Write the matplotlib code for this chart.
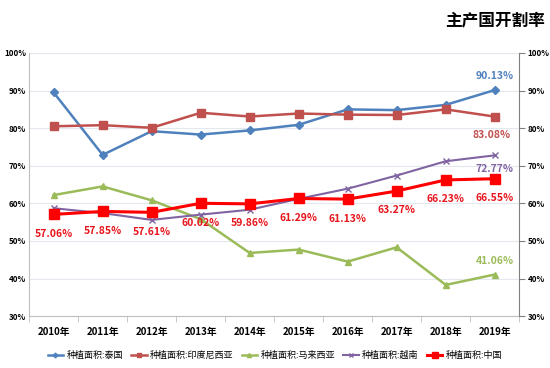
import matplotlib
matplotlib.use("Agg")
import matplotlib.pyplot as plt
from matplotlib.ticker import PercentFormatter

plt.rcParams['font.family'] = ['Noto Sans CJK SC', 'DejaVu Sans']

years = ["2010年", "2011年", "2012年", "2013年", "2014年",
         "2015年", "2016年", "2017年", "2018年", "2019年"]

thailand = [89.5, 72.9, 79.2, 78.3, 79.4, 80.9, 85.0, 84.8, 86.2, 90.13]
indonesia = [80.5, 80.8, 80.1, 84.1, 83.1, 83.9, 83.6, 83.5, 85.0, 83.08]
malaysia = [62.2, 64.5, 60.8, 55.8, 46.8, 47.7, 44.5, 48.3, 38.3, 41.06]
vietnam = [58.7, 57.4, 55.6, 57.0, 58.3, 61.2, 63.9, 67.4, 71.2, 72.77]
china = [57.06, 57.85, 57.61, 60.02, 59.86, 61.29, 61.13, 63.27, 66.23, 66.55]

names = ["种植面积:泰国", "种植面积:印度尼西亚", "种植面积:马来西亚",
         "种植面积:越南", "种植面积:中国"]

fig = plt.figure(figsize=(5.5, 3.68), dpi=100)
ax = fig.add_axes([0.053, 0.141, 0.891, 0.715])
x = range(len(years))

ax.plot(x, thailand, color="#4F81BD", lw=1.8, marker="D", ms=4, label=names[0], zorder=3)
ax.plot(x, indonesia, color="#C0504D", lw=1.8, marker="s", ms=6, label=names[1], zorder=3)
ax.plot(x, malaysia, color="#9BBB59", lw=1.8, marker="^", ms=5, label=names[2], zorder=3)
ax.plot(x, vietnam, color="#8064A2", lw=1.5, marker="x", ms=5, mew=1, label=names[3], zorder=3)
ax.plot(x, china, color="#FF0000", lw=2.2, marker="s", ms=7, label=names[4], zorder=4)

for i, v in enumerate(china):
    ax.annotate(f"{v:.2f}%", (i, v), xytext=(0, -14), textcoords="offset points",
                ha="center", va="center", color="#E8141B", fontsize=7.5, fontweight="bold", zorder=5)
ax.annotate(f"{thailand[-1]:.2f}%", (9, thailand[-1]), xytext=(0, 10), textcoords="offset points",
            ha="center", va="center", color="#4F81BD", fontsize=7.5, fontweight="bold")
ax.annotate(f"{indonesia[-1]:.2f}%", (9, indonesia[-1]), xytext=(-2, -13), textcoords="offset points",
            ha="center", va="center", color="#C0504D", fontsize=7.5, fontweight="bold")
ax.annotate(f"{vietnam[-1]:.2f}%", (9, vietnam[-1]), xytext=(0, -10), textcoords="offset points",
            ha="center", va="center", color="#8064A2", fontsize=7.5, fontweight="bold")
ax.annotate(f"{malaysia[-1]:.2f}%", (9, malaysia[-1]), xytext=(0, 10), textcoords="offset points",
            ha="center", va="center", color="#9BBB59", fontsize=7.5, fontweight="bold")

ax.set_xlim(-0.5, len(years) - 0.5)
ax.set_ylim(30, 100)
ax.set_yticks(range(30, 101, 10))
ax.yaxis.set_major_formatter(PercentFormatter(decimals=0))
ax.set_xticks(list(x))
ax.set_xticklabels(years)
ax.set_xticks([i + 0.5 for i in range(-1, len(years))], minor=True)
ax.tick_params(axis="x", which="major", length=0, pad=8, labelsize=7)
ax.tick_params(axis="x", which="minor", length=4, color="#BFBFBF")
ax.tick_params(axis="y", length=0, labelsize=5.8, pad=2)
ax.grid(axis="y", color="#E3E8EE", lw=0.8)
ax.set_axisbelow(True)
for s in ["top", "right"]:
    ax.spines[s].set_visible(False)
ax.spines["left"].set_color("#BFBFBF")
ax.spines["bottom"].set_color("#BFBFBF")

ax2 = ax.twinx()
ax2.set_ylim(30, 100)
ax2.set_yticks(range(30, 101, 10))
ax2.yaxis.set_major_formatter(PercentFormatter(decimals=0))
ax2.tick_params(axis="y", length=4, color="#808080", labelsize=5.8, pad=2)
for s in ["top", "left", "bottom"]:
    ax2.spines[s].set_visible(False)
ax2.spines["right"].set_color("#808080")

for t in ax.get_xticklabels() + ax.get_yticklabels() + ax2.get_yticklabels():
    t.set_fontweight("bold")

fig.legend(loc="lower center", bbox_to_anchor=(0.5, 0.0), ncol=5, frameon=False,
           fontsize=6.5, handlelength=1.7, columnspacing=0.9, handletextpad=0.4,
           markerscale=0.6)
fig.text(0.99, 0.945, "主产国开割率", ha="right", va="center", fontsize=12, fontweight="bold")

fig.savefig("out.png", dpi=100)
